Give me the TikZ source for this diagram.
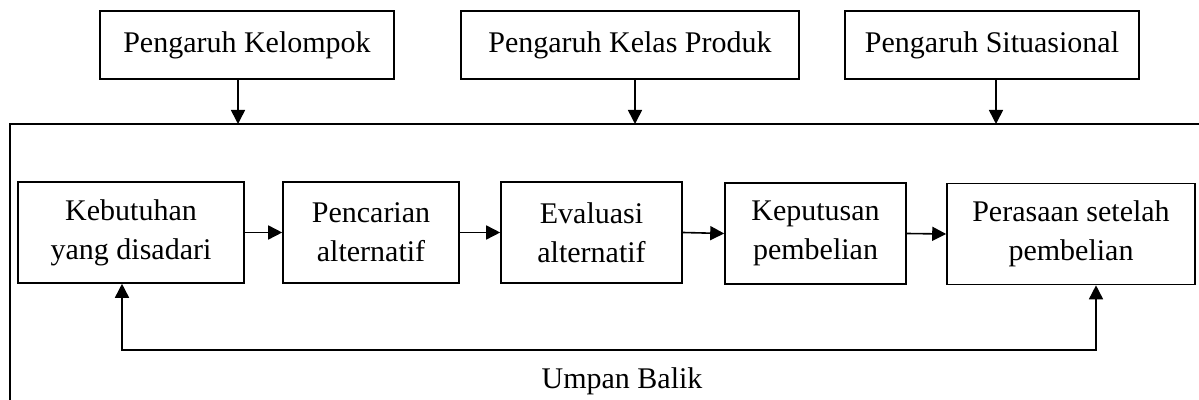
\documentclass[tikz,border=0pt]{standalone}
\usepackage{fontspec}
\setmainfont{Liberation Serif}
\usetikzlibrary{arrows.meta, positioning, calc}

\begin{document}
\begin{tikzpicture}[
    x=0.5pt, y=-0.5pt,
    topbox/.style={rectangle, draw=black, line width=0.8pt, minimum height=34pt, align=center, font=\fontsize{15}{19.5}\selectfont},
    stagebox/.style={rectangle, draw=black, line width=0.8pt, minimum height=50.5pt, align=center, font=\fontsize{15}{19.5}\selectfont},
    conn/.style={draw=black, line width=0.8pt, -{Triangle[length=7pt, width=7pt]}},
    bidir/.style={draw=black, line width=0.8pt, {Triangle[length=7pt, width=7pt]}-{Triangle[length=7pt, width=7pt]}},
    lbl/.style={font=\fontsize{15}{19.5}\selectfont}
]
    \useasboundingbox (0,0) rectangle (1199,400);

    % Row 1: influences (y = 45)
    \node (grp) at (247,45) [topbox, minimum width=147pt] {Pengaruh Kelompok};
    \node (prod) at (630,45) [topbox, minimum width=169pt] {Pengaruh Kelas Produk};
    \node (sit) at (992,45) [topbox, minimum width=147pt] {Pengaruh Situasional};

    % Outer frame
    \draw[line width=0.8pt] (10,400) |- (1199,124);
    \coordinate (fgrp) at (238,124);
    \coordinate (fprod) at (635,124);
    \coordinate (fsit) at (996,124);

    \draw [conn] (grp.south -| fgrp) -- (fgrp);
    \draw [conn] (prod.south -| fprod) -- (fprod);
    \draw [conn] (sit.south -| fsit) -- (fsit);

    % Row 2: decision stages (y = 233)
    \node (need) at (131,232.5) [stagebox, minimum width=113pt] {Kebutuhan\\yang disadari};
    \node (search) at (371,232.5) [stagebox, minimum width=88pt] {Pencarian\\alternatif};
    \node (eval) at (591.5,232.5) [stagebox, minimum width=90.5pt] {Evaluasi\\alternatif};
    \node (decide) at (815.5,233.5) [stagebox, minimum width=90.5pt] {Keputusan\\pembelian};
    \node (after) at (1071,234) [stagebox, minimum width=124pt] {Perasaan setelah\\pembelian};

    \draw [conn] (need.east) -- (search.west);
    \draw [conn] (search.east) -- (eval.west);
    \draw [conn] (eval.east) -- (decide.west);
    \draw [conn] (decide.east) -- (after.west);

    % Feedback loop
    \coordinate (fbl) at (122,350);
    \coordinate (fbr) at (1096,350);
    \draw [bidir] (need.south -| fbl) -- (fbl) -- (fbr) -- (after.south -| fbr);
    \node (fb) at (622,381) [lbl] {Umpan Balik};

\end{tikzpicture}
\end{document}
